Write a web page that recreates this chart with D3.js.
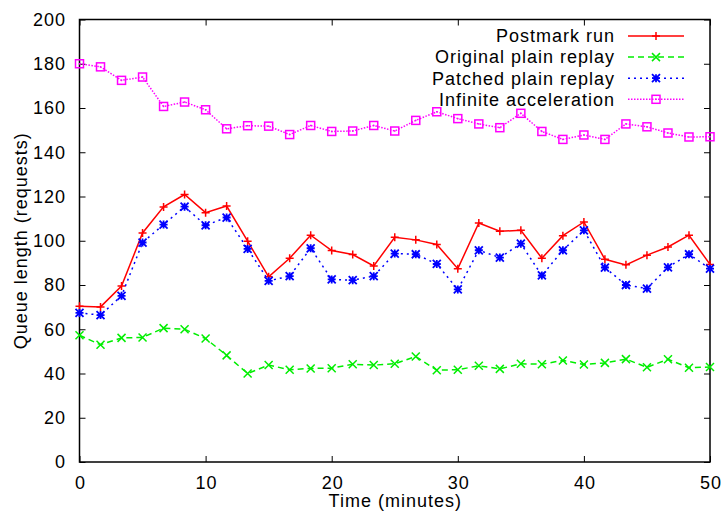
<!DOCTYPE html>
<html><head><meta charset="utf-8">
<script src="https://cdn.jsdelivr.net/npm/d3@7"></script>
<style>body{margin:0;background:#fff}svg{display:block}text{font-family:"Liberation Sans",Arial,sans-serif;fill:#000;letter-spacing:1px}</style>
</head><body><svg id="c" width="725" height="512"></svg>
<script>
const xTicks = [0,10,20,30,40,50];
const yTicks = [0,20,40,60,80,100,120,140,160,180,200];
const seriesNames = ["Postmark run","Original plain replay","Patched plain replay","Infinite acceleration"];
const postmark = [70.4,70.1,79.5,103.5,115.3,120.9,112.7,115.7,99.8,83.7,92.1,102.5,95.6,93.8,88.6,101.6,100.4,98.3,87.4,108,104.3,104.7,92.1,102.3,108.5,91.6,89.1,93.5,97.2,102.5,89.3];
const original = [57.3,53,56.1,56.3,60.5,60,55.8,48.2,40,43.8,41.7,42.3,42.4,44.2,43.8,44.4,47.7,41.5,41.7,43.5,42.1,44.4,44.2,45.9,44.1,44.8,46.5,42.8,46.4,42.6,42.9];
const patched = [67.4,66.4,75.1,99.2,107.3,115.4,107,110.5,96.3,81.9,84,96.6,82.5,82.2,84,94.2,93.9,89.5,78,95.7,92.4,98.7,84.3,95.7,104.7,87.9,80,78.4,88,93.9,87.4];
const infinite = [180,178.6,172.5,174,160.7,162.7,159.2,150.6,152,151.8,148,152.1,149.4,149.6,152.1,149.6,154.4,158.3,155.2,152.8,151.1,157.6,149.4,145.8,147.8,145.8,152.8,151.5,148.7,146.9,147];
const times = postmark.map((_, i) => i * 50 / 30);

const svg = d3.select("#c");
const L = 79.5, R = 710, T = 19.5, B = 462;
const x = d3.scaleLinear().domain([0,50]).range([L,R]);
const y = d3.scaleLinear().domain([0,200]).range([B,T]);

const styles = [
  {data: postmark, color:"#ff0000", dash:null, marker:"plus"},
  {data: original, color:"#00ee00", dash:"6,4", marker:"cross"},
  {data: patched, color:"#0000ff", dash:"2,4", marker:"star"},
  {data: infinite, color:"#ff00ff", dash:"1.5,1.5", marker:"box"}
];

const g = svg.append("g");
const fs = 18;
g.append("g").attr("transform",`translate(0,${B})`)
  .call(d3.axisBottom(x).tickValues(xTicks).tickSize(-6).tickPadding(14).tickFormat(d3.format("d")))
  .call(s=>{s.select(".domain").remove(); s.selectAll("text").attr("font-size",fs).attr("dy","0.71em").attr("dx","0.5");});
g.append("g").attr("transform",`translate(0,${T})`)
  .call(d3.axisTop(x).tickValues(xTicks).tickSize(-6).tickFormat(""))
  .call(s=>s.select(".domain").remove());
g.append("g").attr("transform",`translate(${L},0)`)
  .call(d3.axisLeft(y).tickValues(yTicks).tickSize(-6).tickPadding(13.5).tickFormat(d3.format("d")))
  .call(s=>{s.select(".domain").remove(); s.selectAll("text").attr("font-size",fs);});
g.append("g").attr("transform",`translate(${R},0)`)
  .call(d3.axisRight(y).tickValues(yTicks).tickSize(-6).tickFormat(""))
  .call(s=>s.select(".domain").remove());
g.selectAll(".tick line").attr("stroke","#000").attr("stroke-width",1);
svg.append("rect").attr("x",L).attr("y",T).attr("width",R-L).attr("height",B-T)
  .attr("fill","none").attr("stroke","#000").attr("stroke-width",1.5);

svg.append("text").attr("x",(L+R)/2+0.5).attr("y",507).attr("text-anchor","middle").attr("font-size",fs).text("Time (minutes)");
svg.append("text").attr("transform",`translate(27,${(T+B)/2}) rotate(-90)`).attr("text-anchor","middle").attr("font-size",fs).text("Queue length (requests)");

function drawMarker(sel, type, color){
  const s = 4;
  if(type==="plus"){
    sel.append("path").attr("d",`M${-s},0H${s}M0,${-s}V${s}`).attr("stroke",color).attr("stroke-width",1.5);
  } else if(type==="cross"){
    sel.append("path").attr("d",`M${-s},${-s}L${s},${s}M${-s},${s}L${s},${-s}`).attr("stroke",color).attr("stroke-width",1.5);
  } else if(type==="star"){
    sel.append("path").attr("d",`M${-s},0H${s}M0,${-s}V${s}M${-s},${-s}L${s},${s}M${-s},${s}L${s},${-s}`).attr("stroke",color).attr("stroke-width",1.8);
  } else {
    sel.append("rect").attr("x",-s).attr("y",-s).attr("width",2*s).attr("height",2*s).attr("fill","none").attr("stroke",color).attr("stroke-width",1.5);
    sel.append("rect").attr("x",-0.75).attr("y",-0.75).attr("width",1.5).attr("height",1.5).attr("fill",color);
  }
}

const line = d3.line().x((d,i)=>x(times[i])).y(d=>y(d));
styles.forEach(st=>{
  svg.append("path").datum(st.data).attr("d",line).attr("fill","none")
    .attr("stroke",st.color).attr("stroke-width",1.5).attr("stroke-dasharray",st.dash);
  st.data.forEach((d,i)=>{
    drawMarker(svg.append("g").attr("transform",`translate(${x(times[i])},${y(d)})`), st.marker, st.color);
  });
});

const lg = svg.append("g");
styles.forEach((st,k)=>{
  const yy = 36 + k*21.1;
  lg.append("text").attr("x",615).attr("y",yy).attr("dy","0.35em").attr("text-anchor","end").attr("font-size",fs).text(seriesNames[k]);
  lg.append("line").attr("x1",628).attr("x2",684).attr("y1",yy).attr("y2",yy)
    .attr("stroke",st.color).attr("stroke-width",1.5).attr("stroke-dasharray",st.dash);
  drawMarker(lg.append("g").attr("transform",`translate(656,${yy})`), st.marker, st.color);
});
</script></body></html>
